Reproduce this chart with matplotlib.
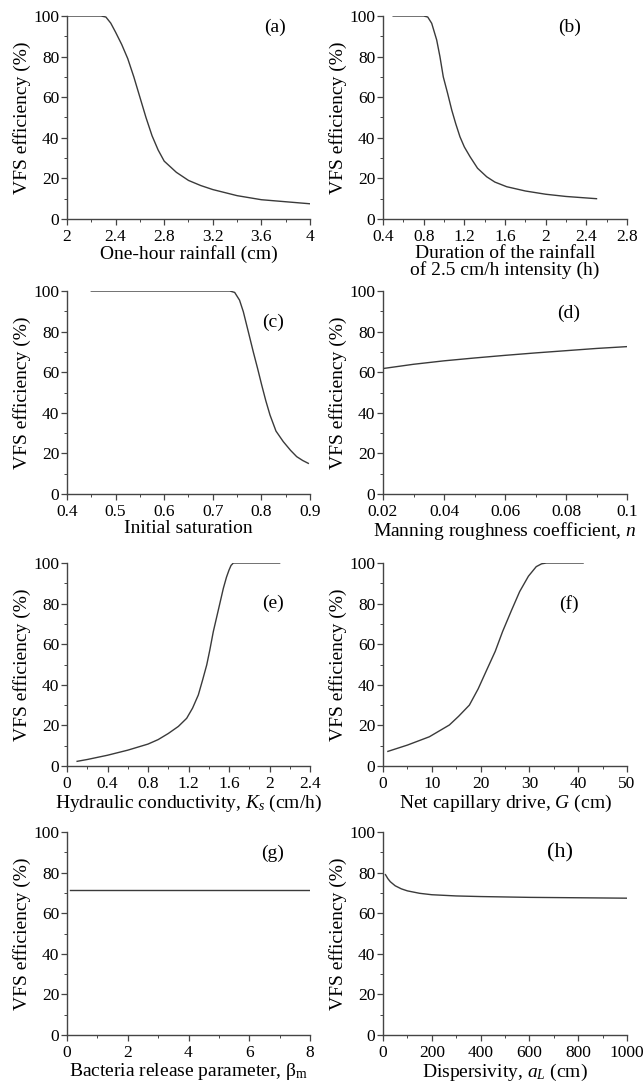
import matplotlib
matplotlib.use("Agg")
import matplotlib.pyplot as plt
from matplotlib.ticker import MultipleLocator

plt.rcParams['font.family'] = ['Liberation Serif', 'DejaVu Serif']
plt.rcParams['mathtext.fontset'] = 'custom'
plt.rcParams['mathtext.rm'] = 'Liberation Serif'
plt.rcParams['mathtext.it'] = 'Liberation Serif:italic'
plt.rcParams['mathtext.bf'] = 'Liberation Serif:bold'

# ---------------- data ----------------
a_x = [2.0, 2.1, 2.2, 2.28, 2.32, 2.36, 2.4, 2.45, 2.5, 2.55, 2.6, 2.65, 2.7, 2.75, 2.8,
       2.9, 3.0, 3.1, 3.2, 3.4, 3.6, 3.8, 4.0]
a_y = [100, 100, 100, 100, 99.5, 96.5, 92, 86, 79, 70, 60, 50, 41, 34, 28.5,
       23, 19, 16.5, 14.5, 11.5, 9.5, 8.5, 7.5]

b_x = [0.5, 0.6, 0.7, 0.8, 0.84, 0.879, 0.928, 0.96, 0.993, 1.035, 1.076, 1.115, 1.157,
       1.2, 1.256, 1.33, 1.42, 1.5, 1.617, 1.8, 2.0, 2.2, 2.5]
b_y = [100, 100, 100, 100, 99.5, 96.4, 88.2, 80, 70, 62, 53.7, 47, 40.5,
       35.5, 30.7, 25, 20.8, 18.2, 15.9, 13.8, 12.2, 11.1, 10]

c_x = [0.45, 0.5, 0.6, 0.7, 0.735, 0.745, 0.755, 0.7628, 0.773, 0.7833, 0.792, 0.8006,
       0.809, 0.8177, 0.83, 0.845, 0.86, 0.8726, 0.885, 0.8965]
c_y = [100, 100, 100, 100, 100, 99.3, 95.5, 89.8, 80, 70, 62, 53.7,
       46, 38.9, 31, 25.8, 21.5, 18.4, 16.5, 15.1]

d_x = [0.02, 0.03, 0.04, 0.05, 0.06, 0.07, 0.08, 0.09, 0.1]
d_y = [61.8, 63.9, 65.6, 67.0, 68.3, 69.5, 70.6, 71.7, 72.6]

e_x = [0.1, 0.2, 0.4, 0.6, 0.8, 0.9, 1.0, 1.1, 1.182, 1.24, 1.297, 1.34, 1.38, 1.41,
       1.445, 1.5, 1.544, 1.575, 1.6, 1.62, 1.643, 1.7, 1.8, 2.0, 2.1]
e_y = [2.3, 3.2, 5.3, 7.8, 10.8, 13, 16, 19.5, 23.5, 28.5, 35, 42.5, 49.8, 57,
       66.2, 78, 87.5, 93, 96.5, 98.8, 100, 100, 100, 100, 100]

f_x = [1, 5, 9.5, 13.6, 15.5, 17.7, 19.5, 21.1, 23, 24.5, 26.3, 28, 29.8, 31.4, 32.5,
       33.5, 35, 38, 41]
f_y = [7.2, 10.3, 14.4, 20.2, 24.5, 30, 38, 46.5, 56.5, 66.2, 76.5, 85.9, 93.5, 98.2, 99.6,
       100, 100, 100, 100]

g_x = [0.1, 2, 4, 6, 8]
g_y = [71.5, 71.5, 71.5, 71.5, 71.5]

h_x = [10, 20, 30, 50, 75, 100, 150, 200, 300, 400, 600, 800, 1000]
h_y = [79, 77, 75.5, 73.5, 72, 71, 69.8, 69.1, 68.5, 68.2, 67.8, 67.6, 67.4]

x_labels = [
    "One-hour rainfall (cm)",
    "Duration of the rainfall\nof 2.5 cm/h intensity (h)",
    "Initial saturation",
    "Manning roughness coefficient, $n$",
    "Hydraulic conductivity, $K_s$ (cm/h)",
    "Net capillary drive, $G$ (cm)",
    "Bacteria release parameter, β$_\\mathrm{m}$",
    "Dispersivity, $a_L$ (cm)",
]
panel_tags = ["(a)", "(b)", "(c)", "(d)", "(e)", "(f)", "(g)", "(h)"]

x_ticks = [
    [2, 2.4, 2.8, 3.2, 3.6, 4],
    [0.4, 0.8, 1.2, 1.6, 2, 2.4, 2.8],
    [0.4, 0.5, 0.6, 0.7, 0.8, 0.9],
    [0.02, 0.04, 0.06, 0.08, 0.1],
    [0, 0.4, 0.8, 1.2, 1.6, 2, 2.4],
    [0, 10, 20, 30, 40, 50],
    [0, 2, 4, 6, 8],
    [0, 200, 400, 600, 800, 1000],
]
x_tick_labels = [
    ["2", "2.4", "2.8", "3.2", "3.6", "4"],
    ["0.4", "0.8", "1.2", "1.6", "2", "2.4", "2.8"],
    ["0.4", "0.5", "0.6", "0.7", "0.8", "0.9"],
    ["0.02", "0.04", "0.06", "0.08", "0.1"],
    ["0", "0.4", "0.8", "1.2", "1.6", "2", "2.4"],
    ["0", "10", "20", "30", "40", "50"],
    ["0", "2", "4", "6", "8"],
    ["0", "200", "400", "600", "800", "1000"],
]
y_ticks = [0, 20, 40, 60, 80, 100]
y_tick_labels = ["0", "20", "40", "60", "80", "100"]
y_label = "VFS efficiency (%)"

series = [(a_x, a_y), (b_x, b_y), (c_x, c_y), (d_x, d_y),
          (e_x, e_y), (f_x, f_y), (g_x, g_y), (h_x, h_y)]

# ---------------- layout ----------------
W, H = 644, 1082
fig = plt.figure(figsize=(W / 100, H / 100), dpi=100)

col_px = [(67, 310), (383, 627)]
row_px = [(16, 219), (291, 494), (563, 766), (832, 1035)]
tag_pos = [(0.856, 0.946), (0.766, 0.946), (0.847, 0.847), (0.762, 0.89),
           (0.847, 0.80), (0.762, 0.80), (0.847, 0.897), (0.724, 0.897)]
tag_size = [14, 14, 14, 14, 14, 14, 14, 16]

line_col = '#3a3a3a'
for i, (xs, ys) in enumerate(series):
    r, c = divmod(i, 2)
    x0, x1 = col_px[c]
    y0, y1 = row_px[r]
    ax = fig.add_axes([x0 / W, 1 - y1 / H, (x1 - x0) / W, (y1 - y0) / H])
    ax.plot(xs, ys, color=line_col, lw=1.0)
    xt = x_ticks[i]
    ax.set_xlim(xt[0], xt[-1])
    ax.set_ylim(0, 100)
    ax.set_xticks(xt)
    ax.set_xticklabels(x_tick_labels[i])
    ax.set_yticks(y_ticks)
    ax.set_yticklabels(y_tick_labels)
    ax.xaxis.set_minor_locator(MultipleLocator((xt[1] - xt[0]) / 2))
    ax.yaxis.set_minor_locator(MultipleLocator(10))
    for s in ['top', 'right']:
        ax.spines[s].set_visible(False)
    for s in ['left', 'bottom']:
        ax.spines[s].set_color('#444444')
        ax.spines[s].set_linewidth(1.0)
    ax.tick_params(which='major', direction='out', length=4, width=0.9,
                   color='#444444', labelsize=12.5)
    ax.tick_params(axis='x', which='major', pad=3)
    ax.tick_params(axis='y', which='major', pad=1.5)
    ax.tick_params(which='minor', direction='out', length=2, width=0.7,
                   color='#444444')
    ax.set_ylabel(y_label, fontsize=14, labelpad=2)
    ax.set_xlabel(x_labels[i], fontsize=14, labelpad=0.5,
                  linespacing=0.9)
    ax.text(tag_pos[i][0], tag_pos[i][1], panel_tags[i], transform=ax.transAxes,
            ha='center', va='center', fontsize=tag_size[i])
    ax.set_facecolor('none')

fig.savefig("out.png", dpi=100, facecolor='white')
